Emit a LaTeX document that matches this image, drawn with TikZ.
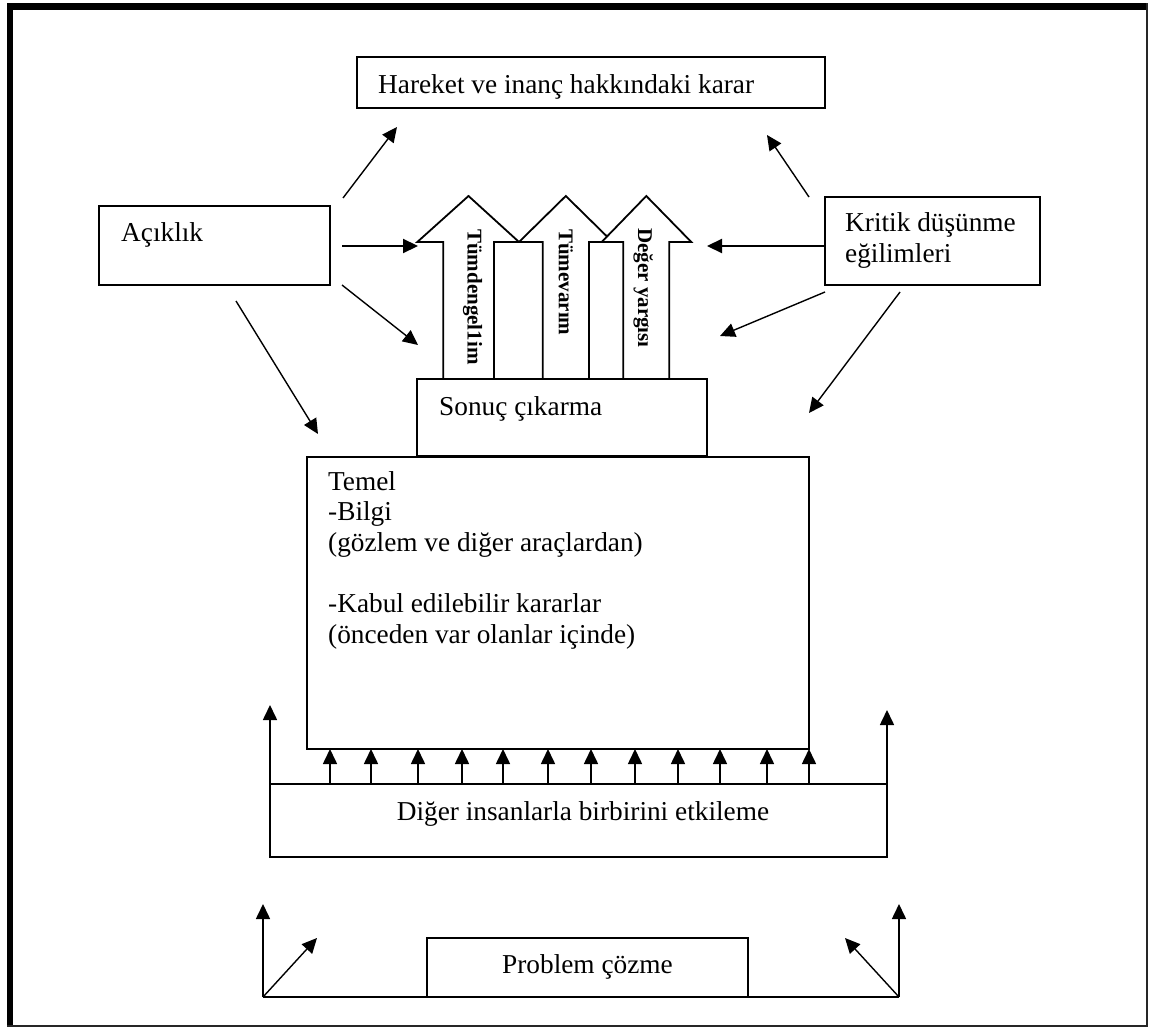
\documentclass[tikz,border=0pt]{standalone}
\usepackage{fontspec}
\setmainfont{Liberation Serif}
\usetikzlibrary{arrows.meta}
\begin{document}
\begin{tikzpicture}[x=1pt,y=-1pt,
  box/.style={draw,line width=1.8pt,rectangle,inner sep=0pt,outer sep=0pt,anchor=north west},
  txt/.style={inner sep=0pt,anchor=base west,font=\fontsize{27.3}{30.6}\selectfont},
  ctxt/.style={inner sep=0pt,anchor=base,font=\fontsize{27.3}{30.6}\selectfont},
  conn/.style={line width=1.4pt,-{Triangle[length=15pt,width=14pt]}},
  thickconn/.style={line width=2.2pt,-{Triangle[length=15pt,width=14pt]}},
  plainline/.style={line width=1.8pt},
  bigarrow/.style={draw,line width=1.8pt,fill=white,line join=miter},
  vtxt/.style={inner sep=0pt,rotate=-90,anchor=west,font=\fontsize{21}{24}\selectfont\bfseries}]
\useasboundingbox (0,0) rectangle (1149,1027);
% outer frame
\draw[line width=6.2pt,line join=miter] (9.7,1026) -- (9.7,6.5) -- (1147,6.5);
\draw[line width=2pt,draw=black!85] (1147,3.3) -- (1147,1025.5) -- (6.7,1025.5);

% boxes
\node[box,minimum width=468pt,minimum height=51pt] (hk) at (357,57) {};
\node[box,minimum width=231pt,minimum height=79pt] (acik) at (99,206) {};
\node[box,minimum width=215pt,minimum height=88pt] (krit) at (825,197) {};

% big arrows
\draw[bigarrow] (443.3,379) -- (443.3,242) -- (417.3,242) -- (468.5,196) -- (519,242) -- (494,242) -- (494,379) -- cycle;
\draw[bigarrow] (542.7,379) -- (542.7,242) -- (519,242) -- (565.8,196) -- (612.6,242) -- (589,242) -- (589,379) -- cycle;
\draw[bigarrow] (623.3,379) -- (623.3,242) -- (601.7,242) -- (646.3,196) -- (691.3,242) -- (669.3,242) -- (669.3,379) -- cycle;
\node[vtxt] (t1) at (472.5,229) {Tümdengel1im};
\node[vtxt] (t2) at (565.8,229) {Tümevarım};
\node[vtxt] (t3) at (643.3,228) {Değer yargısı};

\node[box,minimum width=290pt,minimum height=77pt] (sonuc) at (417,379) {};
\node[box,minimum width=502pt,minimum height=292pt] (temel) at (307,457) {};
\node[box,minimum width=617pt,minimum height=73pt] (diger) at (270,784) {};
\node[box,minimum width=321pt,minimum height=59pt] (prob) at (427,938) {};

% texts
\node[txt] (hkt) at (378,94) {Hareket ve inanç hakkındaki karar};
\node[txt] (acikt) at (121,242) {Açıklık};
\node[txt] (kritt1) at (845,232) {Kritik düşünme};
\node[txt] (kritt2) at (845,262) {eğilimleri};
\node[txt] (sonuct) at (439,415) {Sonuç çıkarma};
\node[txt] (tem1) at (328,490) {Temel};
\node[txt] (tem2) at (328,520.6) {-Bilgi};
\node[txt] (tem3) at (328,551.2) {(gözlem ve diğer araçlardan)};
\node[txt] (tem4) at (328,612.4) {-Kabul edilebilir kararlar};
\node[txt] (tem5) at (328,643) {(önceden var olanlar içinde)};
\node[ctxt] (digert) at (583,820) {Diğer insanlarla birbirini etkileme};
\node[ctxt] (probt) at (587.5,973) {Problem çözme};

% connectors from Açıklık
\coordinate (a1s) at (343,198); \coordinate (a1e) at (397,127);
\coordinate (a2s) at (342,246); \coordinate (a2e) at (418,246);
\coordinate (a3s) at (342,285); \coordinate (a3e) at (418,345);
\coordinate (a4s) at (236,301); \coordinate (a4e) at (318,434);
\draw[conn] (a1s) -- (a1e);
\draw[thickconn] (a2s) -- (a2e);
\draw[conn] (a3s) -- (a3e);
\draw[conn] (a4s) -- (a4e);
% connectors from Kritik
\coordinate (k1s) at (809,197); \coordinate (k1e) at (767,135);
\coordinate (k2e) at (707,246);
\coordinate (k3s) at (825,292); \coordinate (k3e) at (720,336);
\coordinate (k4s) at (900,292); \coordinate (k4e) at (809,413);
\draw[conn] (k1s) -- (k1e);
\draw[thickconn] (krit.west |- k2e) -- (k2e);
\draw[conn] (k3s) -- (k3e);
\draw[conn] (k4s) -- (k4e);

% small arrows from Diğer to Temel
\foreach \xx in {330,371,418,462,503,548,591,635,678,720,767,809}
  \draw[conn,line width=1.6pt] (\xx,0 |- diger.north) -- (\xx,0 |- temel.south);

% side arrows from Diğer
\draw[conn,line width=1.6pt] (diger.north west) -- ++(0,-79);
\draw[conn,line width=1.6pt] (diger.north east) -- ++(0,-74);

% bottom arrows from Problem çözme
\coordinate (bl) at (263,997);
\coordinate (br) at (899,997);
\draw[plainline] (prob.south west) -- (bl);
\draw[plainline] (prob.south east) -- (br);
\draw[conn,line width=1.6pt] (bl) -- (263,904);
\draw[conn] (bl) -- (317,938);
\draw[conn,line width=1.6pt] (br) -- (899,904);
\draw[conn] (br) -- (845,938);
\end{tikzpicture}
\end{document}
